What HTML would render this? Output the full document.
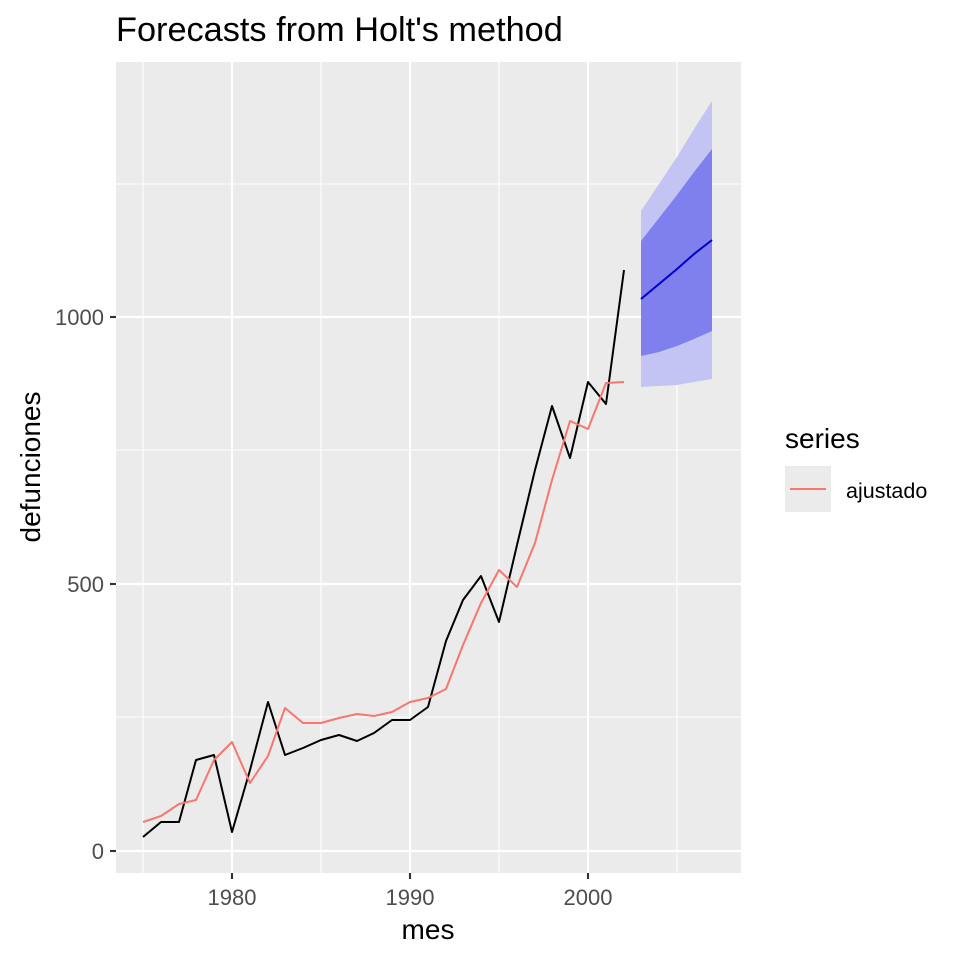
<!DOCTYPE html>
<html><head><meta charset="utf-8"><style>body{margin:0;background:#fff}svg{display:block}text{font-family:"Liberation Sans",sans-serif}</style></head><body>
<svg width="960" height="960" viewBox="0 0 960 960">
<rect width="960" height="960" fill="#fff"/>
<rect x="116" y="62" width="625" height="811" fill="#ebebeb"/>
<g stroke="#fff" stroke-width="1.07">
<line x1="116" x2="741" y1="717" y2="717"/><line x1="116" x2="741" y1="450" y2="450"/><line x1="116" x2="741" y1="184" y2="184"/>
<line x1="143" x2="143" y1="62" y2="873"/><line x1="321" x2="321" y1="62" y2="873"/><line x1="499" x2="499" y1="62" y2="873"/><line x1="677" x2="677" y1="62" y2="873"/>
</g>
<g stroke="#fff" stroke-width="2.13">
<line x1="116" x2="741" y1="851" y2="851"/><line x1="116" x2="741" y1="584" y2="584"/><line x1="116" x2="741" y1="317" y2="317"/>
<line x1="232" x2="232" y1="62" y2="873"/><line x1="410" x2="410" y1="62" y2="873"/><line x1="588" x2="588" y1="62" y2="873"/>
</g>
<polygon fill="#c4c4f4" points="641,211 659,184 677,157 694,129 712,101 712,379 694,382 677,385 659,386 641,387"/>
<polygon fill="#7f7fee" points="641,241 659,218 677,195 694,172 712,149 712,331 694,339 677,346 659,352 641,356"/>
<polyline fill="none" stroke="#0000cc" stroke-width="2" points="641,299 659,284 677,269 694,254 712,240"/>
<polyline fill="none" stroke="#000" stroke-width="2" stroke-linejoin="round" points="143,837 161,822 179,822 196,760 214,755 232,832 250,770 268,702 285,755 303,748 321,740 339,735 357,741 374,733 392,720 410,720 428,707 446,641 463,600 481,576 499,622 517,545 535,470 552,406 570,458 588,382 606,404 624,270"/>
<polyline fill="none" stroke="#f8766d" stroke-width="2" stroke-linejoin="round" points="143,822 161,816 179,804 196,800 214,760 232,742 250,783 268,756 285,708 303,723 321,723 339,718 357,714 374,716 392,712 410,702 428,698 446,689 463,645 481,603 499,570 517,587 535,543 552,480 570,421 588,429 606,383 624,382"/>
<g stroke="#333" stroke-width="2.13"><line x1="110" x2="116" y1="851" y2="851"/><line x1="110" x2="116" y1="584" y2="584"/><line x1="110" x2="116" y1="317" y2="317"/>
<line x1="232" x2="232" y1="873" y2="879"/><line x1="410" x2="410" y1="873" y2="879"/><line x1="588" x2="588" y1="873" y2="879"/></g>
<g fill="#4d4d4d" font-size="22" text-anchor="end"><text x="104" y="859">0</text><text x="104" y="592">500</text><text x="104" y="325">1000</text></g>
<g fill="#4d4d4d" font-size="22" text-anchor="middle"><text x="232" y="905">1980</text><text x="410" y="905">1990</text><text x="588" y="905">2000</text></g>
<text x="428" y="939" font-size="28" text-anchor="middle">mes</text>
<text transform="translate(40,467) rotate(-90)" font-size="28" text-anchor="middle">defunciones</text>
<text x="116" y="41" font-size="34.3">Forecasts from Holt's method</text>
<text x="785" y="448" font-size="28">series</text>
<rect x="785" y="466" width="46" height="46" fill="#ebebeb"/>
<line x1="790" x2="826" y1="489" y2="489" stroke="#f8766d" stroke-width="2"/>
<text x="846" y="498" font-size="21.5">ajustado</text>
</svg>
</body></html>
